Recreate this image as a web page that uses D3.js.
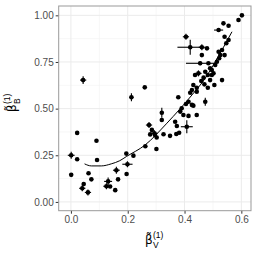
<!DOCTYPE html>
<html>
  <head>
    <meta charset="UTF-8" />
    <style>
      body {
        margin: 0;
        background: #fff;
      }
      text {
        font-family: 'Liberation Sans', Arial, sans-serif;
      }
    </style>
  </head>
  <body>
    <svg></svg>
    <script src="https://d3js.org/d3.v7.min.js"></script>
    <script>
      // points: beta V (x), beta B (y), error half-widths
      const betaV = [0.001, 0.022, 0.022, 0.001, 0.090, 0.092, 0.062, 0.072, 0.045, 0.040,
        0.060, 0.160, 0.131, 0.125, 0.138, 0.166, 0.156, 0.195, 0.199, 0.196,
        0.043, 0.213, 0.260, 0.220, 0.262, 0.301, 0.320, 0.275, 0.285, 0.294,
        0.302, 0.279, 0.326, 0.349, 0.373, 0.381, 0.408, 0.378, 0.390, 0.385,
        0.405, 0.426, 0.414, 0.443, 0.420, 0.443, 0.473, 0.431, 0.443, 0.426,
        0.505, 0.482, 0.470, 0.459, 0.490, 0.532, 0.467, 0.437, 0.449, 0.482,
        0.496, 0.473, 0.496, 0.508, 0.514, 0.522, 0.526, 0.520, 0.532, 0.541,
        0.547, 0.555, 0.541, 0.537, 0.555, 0.520, 0.590, 0.602, 0.405, 0.420,
        0.461, 0.479, 0.461, 0.455, 0.484, 0.371, 0.320, 0.296, 0.431, 0.396,
        0.414, 0.367, 0.490, 0.502]
      const betaB = [0.250, 0.370, 0.229, 0.145, 0.328, 0.225, 0.154, 0.121, 0.096, 0.073,
        0.051, 0.170, 0.110, 0.084, 0.083, 0.121, 0.063, 0.259, 0.202, 0.150,
        0.653, 0.561, 0.614, 0.248, 0.298, 0.284, 0.478, 0.412, 0.386, 0.368,
        0.345, 0.362, 0.363, 0.354, 0.407, 0.371, 0.403, 0.561, 0.502, 0.484,
        0.525, 0.520, 0.461, 0.466, 0.585, 0.591, 0.537, 0.627, 0.612, 0.600,
        0.627, 0.612, 0.630, 0.648, 0.653, 0.653, 0.666, 0.680, 0.689, 0.680,
        0.680, 0.698, 0.707, 0.734, 0.751, 0.770, 0.787, 0.805, 0.814, 0.787,
        0.850, 0.868, 0.885, 0.957, 0.944, 0.921, 0.975, 1.000, 0.885, 0.829,
        0.829, 0.823, 0.787, 0.743, 0.743, 0.364, 0.439, 0.359, 0.516, 0.466,
        0.537, 0.430, 0.716, 0.689]
      const errV = [0.012, 0, 0, 0, 0, 0, 0, 0, 0, 0.011,
        0.011, 0.012, 0.014, 0.011, 0, 0, 0, 0, 0.018, 0,
        0.011, 0.007, 0, 0, 0, 0, 0.005, 0.011, 0, 0.011,
        0, 0, 0, 0, 0, 0, 0.021, 0, 0, 0,
        0, 0, 0, 0, 0, 0, 0.005, 0, 0, 0,
        0, 0, 0, 0, 0, 0, 0, 0, 0.011, 0,
        0, 0, 0, 0, 0, 0, 0, 0, 0, 0,
        0, 0, 0, 0, 0, 0.016, 0, 0, 0.011, 0.045,
        0.011, 0, 0, 0.050, 0, 0, 0, 0, 0, 0,
        0, 0, 0, 0]
      const errB = [0.019, 0, 0, 0, 0, 0, 0, 0, 0, 0.016,
        0.016, 0.019, 0.021, 0.016, 0, 0, 0, 0, 0.016, 0,
        0.021, 0.021, 0, 0, 0, 0, 0.027, 0.016, 0, 0.016,
        0, 0, 0, 0, 0, 0, 0.035, 0, 0, 0,
        0, 0, 0, 0, 0, 0, 0.021, 0, 0, 0,
        0, 0, 0, 0, 0, 0, 0, 0, 0.016, 0,
        0, 0, 0, 0, 0, 0, 0, 0, 0, 0,
        0, 0, 0, 0, 0, 0.011, 0, 0, 0.016, 0.040,
        0.016, 0, 0, 0.011, 0, 0, 0, 0, 0, 0,
        0, 0, 0, 0]

      // fitted curve
      const fitV = [0.048, 0.072, 0.107, 0.142, 0.172, 0.195, 0.261, 0.338, 0.426, 0.473, 0.508, 0.567]
      const fitB = [0.204, 0.193, 0.193, 0.204, 0.221, 0.243, 0.305, 0.422, 0.573, 0.663, 0.751, 0.912]

      const xTicks = [0, 0.2, 0.4, 0.6]
      const yTicks = [0, 0.25, 0.5, 0.75, 1]
      const xMinor = [0.1, 0.3, 0.5]
      const yMinor = [0.125, 0.375, 0.625, 0.875]

      const width = 258,
        height = 258
      const svg = d3.select('svg').attr('width', width).attr('height', height)

      const x = d3.scaleLinear().domain([-0.043, 0.634]).range([58.7, 251])
      const y = d3.scaleLinear().domain([-0.047, 1.05]).range([210.7, 6])

      const grid = svg.append('g')
      grid.selectAll('.minx').data(xMinor).join('line')
        .attr('x1', (d) => x(d)).attr('x2', (d) => x(d))
        .attr('y1', y.range()[0]).attr('y2', y.range()[1])
        .attr('stroke', '#f2f2f2').attr('stroke-width', 0.6)
      grid.selectAll('.miny').data(yMinor).join('line')
        .attr('y1', (d) => y(d)).attr('y2', (d) => y(d))
        .attr('x1', x.range()[0]).attr('x2', x.range()[1])
        .attr('stroke', '#f2f2f2').attr('stroke-width', 0.6)
      grid.selectAll('.majx').data(xTicks).join('line')
        .attr('x1', (d) => x(d)).attr('x2', (d) => x(d))
        .attr('y1', y.range()[0]).attr('y2', y.range()[1])
        .attr('stroke', '#ebebeb').attr('stroke-width', 1)
      grid.selectAll('.majy').data(yTicks).join('line')
        .attr('y1', (d) => y(d)).attr('y2', (d) => y(d))
        .attr('x1', x.range()[0]).attr('x2', x.range()[1])
        .attr('stroke', '#ebebeb').attr('stroke-width', 1)

      // axes
      const xAxis = svg.append('g')
        .attr('transform', 'translate(0,' + y.range()[0] + ')')
        .call(d3.axisBottom(x).tickValues(xTicks).tickFormat(d3.format('.1f')).tickSize(3).tickPadding(2))
      const yAxis = svg.append('g')
        .attr('transform', 'translate(' + x.range()[0] + ',0)')
        .call(d3.axisLeft(y).tickValues(yTicks).tickFormat(d3.format('.2f')).tickSize(3).tickPadding(2))
      ;[xAxis, yAxis].forEach((a) => {
        a.select('.domain').remove()
        a.selectAll('line').attr('stroke', '#333')
        a.selectAll('text').attr('fill', '#4d4d4d').style('font-size', '10px')
          .style('font-family', "'Liberation Sans', Arial, sans-serif")
      })

      const plot = svg.append('g')

      // error bars
      const idx = d3.range(betaV.length)
      plot.selectAll('.eh').data(idx.filter((i) => errV[i] > 0)).join('line')
        .attr('x1', (i) => x(betaV[i] - errV[i])).attr('x2', (i) => x(betaV[i] + errV[i]))
        .attr('y1', (i) => y(betaB[i])).attr('y2', (i) => y(betaB[i]))
        .attr('stroke', '#000').attr('stroke-width', 1.1)
      plot.selectAll('.ev').data(idx.filter((i) => errB[i] > 0)).join('line')
        .attr('x1', (i) => x(betaV[i])).attr('x2', (i) => x(betaV[i]))
        .attr('y1', (i) => y(betaB[i] - errB[i])).attr('y2', (i) => y(betaB[i] + errB[i]))
        .attr('stroke', '#000').attr('stroke-width', 1.1)

      plot.selectAll('circle').data(idx).join('circle')
        .attr('cx', (i) => x(betaV[i]))
        .attr('cy', (i) => y(betaB[i]))
        .attr('r', 2.3)
        .attr('fill', '#000')

      // fitted curve
      plot.append('path')
        .datum(d3.range(fitV.length))
        .attr('d', d3.line().x((i) => x(fitV[i])).y((i) => y(fitB[i])).curve(d3.curveMonotoneX))
        .attr('fill', 'none')
        .attr('stroke', '#000')
        .attr('stroke-width', 1)

      // panel border
      svg.append('rect')
        .attr('x', x.range()[0]).attr('y', y.range()[1])
        .attr('width', x.range()[1] - x.range()[0])
        .attr('height', y.range()[0] - y.range()[1])
        .attr('fill', 'none').attr('stroke', '#999').attr('stroke-width', 1)

      // axis titles: beta with a combining tilde, subscript and superscript (1)
      function betaTitle(g, sub) {
        g.append('text').attr('x', 0).attr('y', 0).style('font-size', '12px')
          .style('font-family', "'DejaVu Sans', sans-serif").text('β\u0303')
        g.append('text').attr('x', 8).attr('y', 4).style('font-size', '8.5px').text(sub)
        g.append('text').attr('x', 8).attr('y', -6.5).style('font-size', '8.5px').text('(1)')
        g.selectAll('text').attr('fill', '#000')
      }
      betaTitle(svg.append('g').attr('transform', 'translate(145,244)'), 'V')
      betaTitle(svg.append('g').attr('transform', 'translate(16,112) rotate(-90)'), 'B')
    </script>
  </body>
</html>
